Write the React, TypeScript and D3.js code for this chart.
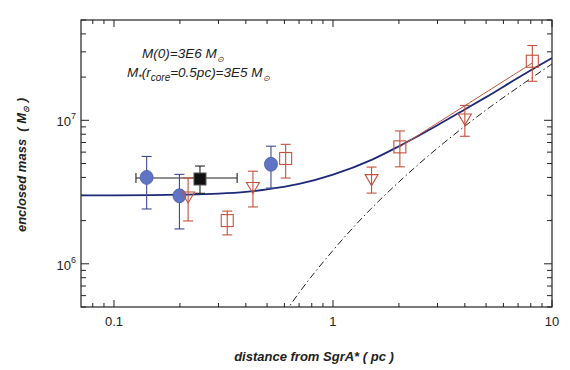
import * as d3 from 'd3'
import React from 'react'

// blue filled circles
const circleR = [0.141, 0.199, 0.521]
const circleM = [4.0e6, 2.98e6, 4.94e6]
const circleLo = [2.41e6, 1.75e6, 3.37e6]
const circleHi = [5.6e6, 4.2e6, 6.6e6]

// black filled square (with horizontal error)
const blackR = [0.247]
const blackM = [3.9e6]
const blackLo = [3.1e6]
const blackHi = [4.8e6]
const blackRLo = [0.126]
const blackRHi = [0.365]

// red open triangles
const triR = [0.218, 0.431, 1.5, 4.0]
const triM = [2.92e6, 3.4e6, 3.86e6, 1.02e7]
const triLo = [1.99e6, 2.49e6, 3.11e6, 7.74e6]
const triHi = [3.96e6, 4.42e6, 4.72e6, 1.27e7]

// red open squares
const sqR = [0.329, 0.608, 2.02, 8.13]
const sqM = [2.0e6, 5.42e6, 6.53e6, 2.58e7]
const sqLo = [1.59e6, 3.96e6, 4.74e6, 1.87e7]
const sqHi = [2.33e6, 6.8e6, 8.43e6, 3.32e7]

// red connecting line
const lineR = [2.02, 8.1]
const lineM = [6.53e6, 2.5e7]

// total mass model (blue curve)
const modelR = [0.07, 0.1, 0.15, 0.2, 0.3, 0.4, 0.5, 0.7, 1, 1.5, 2, 3, 4, 5, 7, 10]
const modelM = [3.0e6, 3.0e6, 3.01e6, 3.03e6, 3.08e6, 3.17e6, 3.3e6, 3.6e6, 4.18e6, 5.3e6, 6.6e6, 9.25e6, 1.19e7, 1.45e7, 1.98e7, 2.72e7]

// stellar mass (dash-dot)
const starR = [0.6, 0.7, 1, 1.5, 2, 3, 4, 5, 7, 10]
const starM = [4.5e5, 6.28e5, 1.24e6, 2.44e6, 3.72e6, 6.4e6, 9.1e6, 1.18e7, 1.7e7, 2.47e7]

const xTickLabels = [0.1, 1, 10]
const yTickLabels = [6, 7]

const W = 570
const H = 370
const margin = { top: 20, right: 18, bottom: 63, left: 81 }
const font = '"Liberation Sans", Arial, sans-serif'
const red = '#c4513c'
const blueFill = '#5f74c4'
const blueBar = '#3d4c90'

export default function App() {
  const x = d3.scaleLog().domain([0.0707, 10]).range([margin.left, W - margin.right])
  const y = d3.scaleLog().domain([5e5, 5e7]).range([H - margin.bottom, margin.top])
  const [x0, x1] = x.range()
  const [y0, y1] = y.range()

  const line = d3
    .line<[number, number]>()
    .x((d) => x(d[0]))
    .y((d) => y(d[1]))
    .curve(d3.curveMonotoneX)
  const straight = d3
    .line<[number, number]>()
    .x((d) => x(d[0]))
    .y((d) => y(d[1]))

  const isMajor = (v: number) => Math.abs(Math.log10(v) - Math.round(Math.log10(v))) < 1e-6

  const errBar = (cx: number, lo: number, hi: number, color: string, key: string, cap = 10) => (
    <g key={key} stroke={color} strokeWidth={1.1}>
      <line x1={cx} x2={cx} y1={y(lo)} y2={y(hi)} />
      <line x1={cx - cap / 2} x2={cx + cap / 2} y1={y(lo)} y2={y(lo)} />
      <line x1={cx - cap / 2} x2={cx + cap / 2} y1={y(hi)} y2={y(hi)} />
    </g>
  )

  return (
    <svg width={W} height={H} style={{ position: 'absolute', left: 0, top: 0, background: '#fff' }}>
      <defs>
        <clipPath id='plot'>
          <rect x={x0} y={y1} width={x1 - x0} height={y0 - y1} />
        </clipPath>
      </defs>

      {/* ticks on all four sides, pointing inward */}
      <g stroke='#222' strokeWidth={1}>
        {x.ticks().map((t, i) => {
          const len = isMajor(t) ? 7 : 4
          return (
            <g key={`xt-${i}`}>
              <line x1={x(t)} x2={x(t)} y1={y0} y2={y0 - len} />
              <line x1={x(t)} x2={x(t)} y1={y1} y2={y1 + len} />
            </g>
          )
        })}
        {y.ticks().map((t, i) => {
          const len = isMajor(t) ? 8 : 5
          return (
            <g key={`yt-${i}`}>
              <line x1={x0} x2={x0 + len} y1={y(t)} y2={y(t)} />
              <line x1={x1} x2={x1 - len} y1={y(t)} y2={y(t)} />
            </g>
          )
        })}
      </g>
      <rect x={x0} y={y1} width={x1 - x0} height={y0 - y1} fill='none' stroke='#222' strokeWidth={1.2} />

      {/* tick labels */}
      <g fontFamily={font} fontSize={13} fill='#222'>
        {xTickLabels.map((t) => (
          <text key={`xl-${t}`} x={x(t)} y={y0 + 19} textAnchor='middle'>
            {t}
          </text>
        ))}
        {yTickLabels.map((p) => (
          <text key={`yl-${p}`} x={x0 - 5} y={y(Math.pow(10, p)) + 6} textAnchor='end'>
            10
            <tspan dy={-7} fontSize={9}>
              {p}
            </tspan>
          </text>
        ))}
      </g>

      {/* axis titles */}
      <text
        x={314}
        y={361}
        textAnchor='middle'
        fontFamily={font}
        fontSize={13}
        fontWeight='bold'
        fontStyle='italic'
        fill='#222'
      >
        distance from SgrA* ( pc )
      </text>
      <text
        transform='translate(26, 165) rotate(-90)'
        textAnchor='middle'
        fontFamily={font}
        fontSize={13}
        fontWeight='bold'
        fontStyle='italic'
        fill='#222'
      >
        enclosed mass{'\u00a0\u00a0'}( M
        <tspan dy={3} fontSize={8}>
          ⊙
        </tspan>
        <tspan dy={-3}> )</tspan>
      </text>

      {/* annotations */}
      <g fontFamily={font} fontSize={13.5} fontStyle='italic' fill='#222'>
        <text x={142} y={58}>
          M(0)=3E6 M
          <tspan dy={4} fontSize={8}>
            ⊙
          </tspan>
        </text>
        <text x={127} y={77}>
          M
          <tspan dy={3} fontSize={9}>
            *
          </tspan>
          <tspan dy={-3}>(r</tspan>
          <tspan dy={4} fontSize={10}>
            core
          </tspan>
          <tspan dy={-4}>=0.5pc)=3E5 M</tspan>
          <tspan dy={4} fontSize={8}>
            ⊙
          </tspan>
        </text>
      </g>

      <g clipPath='url(#plot)'>
        {/* stellar mass dash-dot */}
        <path
          d={line(starR.map((r, i) => [r, starM[i]])) || ''}
          fill='none'
          stroke='#222'
          strokeWidth={1}
          strokeDasharray='7 3 1.5 3'
        />
        {/* model curve */}
        <path
          d={line(modelR.map((r, i) => [r, modelM[i]])) || ''}
          fill='none'
          stroke='#1e2a78'
          strokeWidth={1.8}
        />
        {/* red connecting line */}
        <path
          d={straight(lineR.map((r, i) => [r, lineM[i]])) || ''}
          fill='none'
          stroke={red}
          strokeWidth={1}
        />
      </g>

      {/* black square horizontal error */}
      {blackR.map((r, i) => (
        <g key={`bh-${i}`} stroke='#222' strokeWidth={1.1}>
          <line x1={x(blackRLo[i])} x2={x(blackRHi[i])} y1={y(blackM[i]) - 1} y2={y(blackM[i]) - 1} />
          <line x1={x(blackRLo[i])} x2={x(blackRLo[i])} y1={y(blackM[i]) - 6} y2={y(blackM[i]) + 4} />
          <line x1={x(blackRHi[i])} x2={x(blackRHi[i])} y1={y(blackM[i]) - 6} y2={y(blackM[i]) + 4} />
        </g>
      ))}

      {/* blue circles */}
      {circleR.map((r, i) => errBar(x(r), circleLo[i], circleHi[i], blueBar, `ce-${i}`))}
      {circleR.map((r, i) => (
        <ellipse key={`c-${i}`} cx={x(r)} cy={y(circleM[i])} rx={6.5} ry={7} fill={blueFill} stroke='#4a5cae' strokeWidth={0.8} />
      ))}

      {/* red triangles */}
      {triR.map((r, i) => errBar(x(r), triLo[i], triHi[i], red, `te-${i}`))}
      {triR.map((r, i) => {
        const cx = x(r)
        const cy = y(triM[i])
        return (
          <path
            key={`t-${i}`}
            d={`M${cx - 6.5},${cy - 5} L${cx + 6.5},${cy - 5} L${cx},${cy + 6} Z`}
            fill='none'
            stroke={red}
            strokeWidth={1.1}
          />
        )
      })}

      {/* red squares */}
      {sqR.map((r, i) => errBar(x(r), sqLo[i], sqHi[i], red, `se-${i}`))}
      {sqR.map((r, i) => (
        <rect
          key={`s-${i}`}
          x={x(r) - 6}
          y={y(sqM[i]) - 6}
          width={12}
          height={12}
          fill='none'
          stroke={red}
          strokeWidth={1.1}
        />
      ))}

      {/* black square */}
      {blackR.map((r, i) => errBar(x(r), blackLo[i], blackHi[i], '#222', `be-${i}`))}
      {blackR.map((r, i) => (
        <rect
          key={`b-${i}`}
          x={x(r) - 6}
          y={y(blackM[i]) - 6}
          width={12}
          height={12}
          fill='#111'
          stroke='#555'
          strokeWidth={1}
        />
      ))}
    </svg>
  )
}
